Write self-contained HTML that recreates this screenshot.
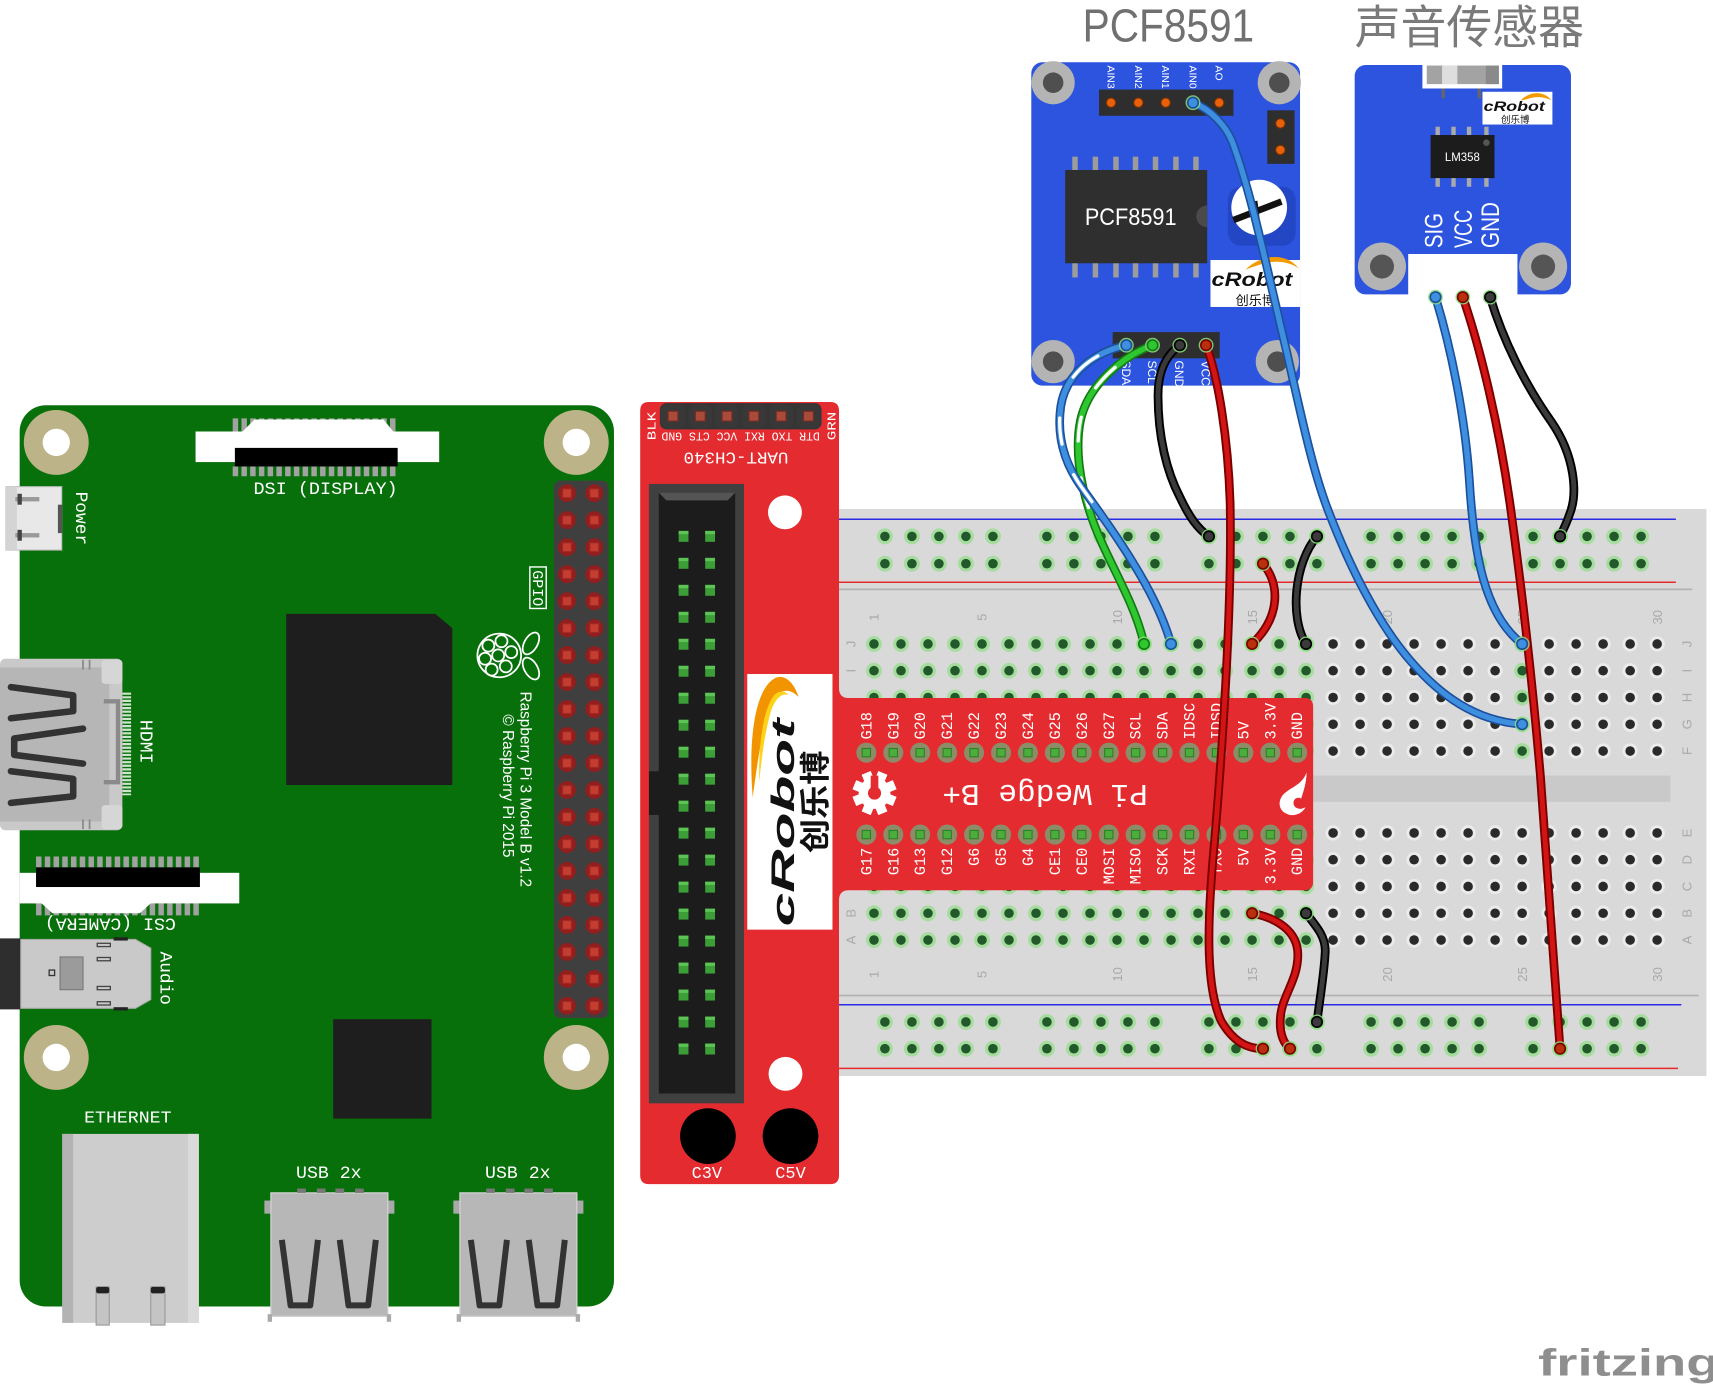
<!DOCTYPE html>
<html><head><meta charset="utf-8"><title>Fritzing breadboard</title>
<style>html,body{margin:0;padding:0;background:#fff;overflow:hidden}svg{display:block}</style></head>
<body>
<svg xmlns="http://www.w3.org/2000/svg" width="1713" height="1395" viewBox="0 0 1568 1277" preserveAspectRatio="none">
<style>
.m{font-family:"Liberation Mono",monospace;fill:#fff}
.s{font-family:"Liberation Sans",sans-serif}
.n{font-family:"Liberation Sans",sans-serif;font-size:12px;fill:#a9a9a9}
</style>
<defs>
 <g id="hg"><circle r="7.3" fill="#a6dd9f"/><circle r="4.4" fill="#22592a"/></g>
 <g id="hb"><circle r="7" fill="#ebebeb"/><circle r="4.4" fill="#2a2a2a"/></g>
 <g id="r5"><use href="#hg" x="0"/><use href="#hg" x="24.72"/><use href="#hg" x="49.44"/><use href="#hg" x="74.16"/><use href="#hg" x="98.88"/></g>
 <g id="rr"><use href="#r5" x="0"/><use href="#r5" x="148.3"/><use href="#r5" x="296.6"/><use href="#r5" x="445"/><use href="#r5" x="593.3"/></g>
 <g id="cg"><use href="#hg" y="0"/><use href="#hg" y="24.5"/><use href="#hg" y="49"/><use href="#hg" y="73.5"/><use href="#hg" y="98"/></g>
 <g id="cb"><use href="#hb" y="0"/><use href="#hb" y="24.5"/><use href="#hb" y="49"/><use href="#hb" y="73.5"/><use href="#hb" y="98"/></g>
 <g id="g17"><use href="#cg" x="0"/><use href="#cg" x="24.72"/><use href="#cg" x="49.44"/><use href="#cg" x="74.16"/><use href="#cg" x="98.88"/><use href="#cg" x="123.6"/><use href="#cg" x="148.32"/><use href="#cg" x="173.04"/><use href="#cg" x="197.76"/><use href="#cg" x="222.48"/><use href="#cg" x="247.2"/><use href="#cg" x="271.92"/><use href="#cg" x="296.64"/><use href="#cg" x="321.36"/><use href="#cg" x="346.08"/><use href="#cg" x="370.8"/><use href="#cg" x="395.52"/></g>
 <g id="b13"><use href="#cb" x="0"/><use href="#cb" x="24.72"/><use href="#cb" x="49.44"/><use href="#cb" x="74.16"/><use href="#cb" x="98.88"/><use href="#cb" x="123.6"/><use href="#cb" x="148.32"/><use href="#cb" x="173.04"/><use href="#cb" x="197.76"/><use href="#cb" x="222.48"/><use href="#cb" x="247.2"/><use href="#cb" x="271.92"/><use href="#cb" x="296.64"/></g>
 <g id="gp"><circle r="8.2" fill="#921e1e"/><rect x="-4" y="-4" width="8" height="8" fill="#c43d31" stroke="#a22a24" stroke-width="1"/></g>
 <g id="gp2"><use href="#gp" x="0"/><use href="#gp" x="25"/></g>
 <g id="ip"><rect x="-4.5" y="-5" width="9" height="10" fill="#3b9e37"/><rect x="-4.5" y="-5" width="9" height="3" fill="#5cc455"/></g>
 <g id="ip2"><use href="#ip" x="0"/><use href="#ip" x="24.3"/></g>
 <g id="wp"><circle r="9.2" fill="#8d8c68"/><rect x="-3.8" y="-3.8" width="7.6" height="7.6" fill="#4bae3c" stroke="#2e7f24" stroke-width="1"/></g>
 <g id="wp2"><use href="#wp" y="0"/><use href="#wp" y="75"/></g>
 <g id="hp"><rect x="-11" y="-11" width="22" height="22" rx="7" fill="#383838"/><rect x="-4.5" y="-4.5" width="9" height="9" fill="#a94b3b" stroke="#7a2a20" stroke-width="1"/></g>
 <g id="eB"><circle r="6.8" fill="#8be07f" opacity="0.85"/><circle r="4.8" fill="#3f8fe0" stroke="#1c4f9c" stroke-width="1.5"/></g>
 <g id="eG"><circle r="6.8" fill="#8be07f" opacity="0.85"/><circle r="4.8" fill="#2fc72f" stroke="#157a15" stroke-width="1.5"/></g>
 <g id="eK"><circle r="6.8" fill="#8be07f" opacity="0.85"/><circle r="4.8" fill="#3a3a3a" stroke="#000" stroke-width="1.5"/></g>
 <g id="eR"><circle r="6.8" fill="#8be07f" opacity="0.85"/><circle r="4.8" fill="#b8300c" stroke="#7a0000" stroke-width="1.5"/></g>
 <path id="wAIN" d="M1092,94 C1108,100 1122,115 1128,130 C1146,178 1161,252 1178,323 C1192,385 1202,432 1216,468 C1236,520 1262,572 1292,606 C1318,636 1350,660 1393.3,663"/>
 <path id="wSIG" d="M1314,272 C1328,318 1341,380 1345,440 C1349,505 1358,562 1393.3,589.5"/>
 <path id="wSV" d="M1339,272 C1356,322 1372,390 1382,460 C1396,560 1404,640 1410,710 C1417,800 1423,880 1428,960"/>
 <path id="wSG" d="M1364,272 C1376,312 1396,352 1420,386 C1442,418 1444,452 1437,470 C1434,479 1431,485 1428,491"/>
 <path id="wSDA" d="M1031,316 C1004,322 976,340 971,372 C967,400 975,425 990,446 C1020,488 1058,540 1071.9,589.5"/>
 <path id="wSCL" d="M1055,316 C1028,326 996,352 989,385 C984,410 988,440 998,470 C1010,508 1038,548 1047.2,589.5"/>
 <path id="wPG" d="M1080,316 C1066,326 1060,342 1060,362 C1060,400 1068,432 1080,455 C1088,472 1096,484 1106.6,491"/>
 <path id="wPV" d="M1104,316 C1115,345 1124,400 1126,460 C1128,560 1118,700 1110,790 C1105,850 1104,905 1118,935 C1128,952 1140,960 1156.1,960"/>
 <path id="wR1" d="M1156.1,516 C1172,535 1172,565 1146.1,589.5"/>
 <path id="wK1" d="M1205.5,491 C1185,515 1180,565 1195.5,589.5"/>
 <path id="wR2" d="M1146.1,836 C1168,840 1188,852 1188,874 C1188,898 1173,912 1172,932 C1171,946 1175,955 1180.8,960"/>
 <path id="wK2" d="M1195.5,836 C1205,848 1214,858 1213,872 C1212,892 1208,915 1205.5,935.5"/>
</defs>

<!-- ================= RASPBERRY PI ================= -->
<rect x="18" y="371" width="544" height="825" rx="24" fill="#08700b"/>
<g fill="#bcb388"><circle cx="51.5" cy="405" r="29.7"/><circle cx="527.5" cy="405" r="29.7"/><circle cx="51.5" cy="968" r="29.7"/><circle cx="527.5" cy="968" r="29.7"/></g>
<g fill="#fff"><circle cx="51.5" cy="405" r="12.5"/><circle cx="527.5" cy="405" r="12.5"/><circle cx="51.5" cy="968" r="12.5"/><circle cx="527.5" cy="968" r="12.5"/></g>

<!-- DSI -->
<line x1="213" y1="389" x2="362" y2="389" stroke="#a2a2a2" stroke-width="12" stroke-dasharray="5 3"/>
<line x1="213" y1="431.5" x2="362" y2="431.5" stroke="#a2a2a2" stroke-width="9" stroke-dasharray="5 3"/>
<rect x="179" y="395" width="223" height="28" fill="#fff"/>
<polygon points="222,395 233,384 351,384 360,395" fill="#fff"/>
<rect x="215" y="410" width="149" height="17" fill="#000"/>
<text class="m" x="298" y="452" font-size="16" text-anchor="middle" textLength="132" lengthAdjust="spacingAndGlyphs">DSI (DISPLAY)</text>

<!-- Power -->
<rect x="5.5" y="445.5" width="51" height="58" fill="#e8e8e8" stroke="#bdbdbd" stroke-width="1"/>
<rect x="5.5" y="445.5" width="10" height="58" fill="#d4d4d4"/>
<rect x="14" y="455" width="22" height="4" fill="#9a9a9a"/><rect x="14" y="488" width="22" height="4" fill="#9a9a9a"/>
<rect x="16" y="452" width="4" height="10" fill="#444"/><rect x="16" y="485" width="4" height="10" fill="#444"/>
<rect x="53" y="462" width="4" height="26" fill="#555"/>
<text class="m" font-size="16" transform="translate(69.5,450) rotate(90)" textLength="49" lengthAdjust="spacingAndGlyphs">Power</text>

<!-- HDMI -->
<rect x="0" y="603" width="112" height="157" rx="5" fill="#c9c9c9"/>
<rect x="0" y="611" width="100" height="141" fill="#b6b6b6"/>
<rect x="93" y="604" width="19" height="22" rx="3" fill="#d6d6d6"/>
<rect x="93" y="737" width="19" height="22" rx="3" fill="#d6d6d6"/>
<g stroke="#8a8a8a" stroke-width="1.6"><line x1="76" y1="604" x2="76" y2="613"/><line x1="82" y1="604" x2="82" y2="613"/><line x1="76" y1="750" x2="76" y2="759"/><line x1="82" y1="750" x2="82" y2="759"/></g>
<polyline points="95,642 108,642 108,716 95,716" fill="none" stroke="#8a8a8a" stroke-width="4"/>
<g fill="none" stroke="#333" stroke-width="6" stroke-linecap="round" stroke-linejoin="round">
 <polyline points="10,629 67,636.5 67,651 10,657.5"/>
 <polyline points="76,667 13,676 13,691 76,699"/>
 <polyline points="10,706 67,713 67,729 10,735"/>
</g>
<line x1="116" y1="634" x2="116" y2="728" stroke="#cfe3cf" stroke-width="8" stroke-dasharray="2 1.3"/>
<text class="m" font-size="16.5" transform="translate(128.5,659) rotate(90)" textLength="40" lengthAdjust="spacingAndGlyphs">HDMI</text>

<!-- CSI -->
<line x1="33" y1="789" x2="183" y2="789" stroke="#a2a2a2" stroke-width="10" stroke-dasharray="5 3"/>
<line x1="33" y1="832.5" x2="183" y2="832.5" stroke="#a2a2a2" stroke-width="11" stroke-dasharray="5 3"/>
<rect x="18" y="799" width="201" height="28" fill="#fff"/>
<polygon points="37,826 48,836 128,836 139,826" fill="#fff"/>
<rect x="33" y="794" width="150" height="18" fill="#000"/>
<text class="m" font-size="16" text-anchor="middle" transform="translate(101,841) rotate(180)" textLength="120" lengthAdjust="spacingAndGlyphs">CSI (CAMERA)</text>

<!-- Audio -->
<rect x="0" y="859" width="20" height="65" fill="#2e2e2e"/>
<polygon points="19,860 124,860 138,868 138,915 124,923 19,923" fill="#c9c9c9" stroke="#aaa" stroke-width="1"/>
<rect x="55" y="876" width="21" height="30" fill="#9b9b9b" stroke="#777" stroke-width="1"/>
<rect x="45" y="888" width="5" height="5" fill="none" stroke="#333" stroke-width="1.2"/>
<g fill="#c9c9c9" stroke="#444" stroke-width="1.2"><rect x="89" y="863.5" width="12" height="3"/><rect x="89" y="876.5" width="12" height="3"/><rect x="89" y="903" width="12" height="3"/><rect x="89" y="917" width="12" height="3"/></g>
<rect x="104" y="858" width="13" height="3" fill="#222"/><rect x="104" y="922" width="13" height="3" fill="#222"/>
<text class="m" font-size="16" transform="translate(147,871) rotate(90)" textLength="49" lengthAdjust="spacingAndGlyphs">Audio</text>

<!-- chips -->
<polygon points="262,562 398.5,562 414,575 414,718.6 262,718.6" fill="#1e1e1e"/>
<rect x="305" y="933" width="90" height="91" fill="#1e1e1e"/>

<!-- GPIO header -->
<rect x="507" y="440" width="50" height="492" rx="6" fill="#3f3f3f"/>
<use href="#gp2" x="519" y="451.5"/><use href="#gp2" x="519" y="476.2"/><use href="#gp2" x="519" y="500.9"/><use href="#gp2" x="519" y="525.6"/><use href="#gp2" x="519" y="550.3"/>
<use href="#gp2" x="519" y="575"/><use href="#gp2" x="519" y="599.7"/><use href="#gp2" x="519" y="624.4"/><use href="#gp2" x="519" y="649.1"/><use href="#gp2" x="519" y="673.8"/>
<use href="#gp2" x="519" y="698.5"/><use href="#gp2" x="519" y="723.2"/><use href="#gp2" x="519" y="747.9"/><use href="#gp2" x="519" y="772.6"/><use href="#gp2" x="519" y="797.3"/>
<use href="#gp2" x="519" y="822"/><use href="#gp2" x="519" y="846.7"/><use href="#gp2" x="519" y="871.4"/><use href="#gp2" x="519" y="896.1"/><use href="#gp2" x="519" y="920.8"/>
<rect x="485" y="519" width="15" height="38" fill="none" stroke="#fff" stroke-width="1.3"/>
<text class="m" font-size="13.5" transform="translate(488,522) rotate(90)" textLength="33" lengthAdjust="spacingAndGlyphs">GPIO</text>

<!-- raspberry logo -->
<g fill="none" stroke="#fff" stroke-width="1.6">
 <ellipse cx="457" cy="600" rx="20" ry="20"/>
 <circle cx="447" cy="591" r="5.5"/><circle cx="459" cy="587" r="5.5"/><circle cx="444" cy="603" r="5.5"/><circle cx="456" cy="600" r="5.5"/><circle cx="468" cy="597" r="5.5"/><circle cx="450" cy="613" r="5.5"/><circle cx="463" cy="610" r="5.5"/>
 <ellipse cx="486" cy="589" rx="11" ry="6" transform="rotate(-60 486 589)"/>
 <ellipse cx="486" cy="612" rx="11" ry="6" transform="rotate(60 486 612)"/>
</g>
<text class="s" font-size="14" fill="#fff" transform="translate(476.5,633) rotate(90)" textLength="179" lengthAdjust="spacingAndGlyphs">Raspberry Pi 3 Model B v1.2</text>
<text class="s" font-size="14" fill="#fff" transform="translate(460.5,654) rotate(90)" textLength="131" lengthAdjust="spacingAndGlyphs">© Raspberry Pi 2015</text>

<!-- Ethernet -->
<text class="m" x="117" y="1027.6" font-size="15" text-anchor="middle" textLength="80" lengthAdjust="spacingAndGlyphs">ETHERNET</text>
<rect x="57" y="1038" width="125" height="173" fill="#cdcdcd"/>
<rect x="57" y="1038" width="10" height="173" fill="#b3b3b3"/>
<rect x="172" y="1038" width="10" height="173" fill="#dadada"/>
<rect x="88" y="1178" width="12" height="35" fill="#c4c4c4" stroke="#999" stroke-width="1"/><rect x="88" y="1178" width="12" height="6" rx="2" fill="#222"/>
<rect x="138" y="1178" width="13" height="35" fill="#c4c4c4" stroke="#999" stroke-width="1"/><rect x="138" y="1178" width="13" height="6" rx="2" fill="#222"/>

<!-- USB 1 -->
<g id="usb">
<rect x="242" y="1099" width="119" height="12" fill="#a9a9a9"/>
<rect x="248" y="1092" width="107" height="113" fill="#b7b7b7" stroke="#d2d2d2" stroke-width="1.2"/>
<g fill="#777"><rect x="272" y="1088" width="8" height="4"/><rect x="290" y="1088" width="8" height="4"/><rect x="307" y="1088" width="8" height="4"/><rect x="325" y="1088" width="8" height="4"/></g>
<g fill="none" stroke="#333" stroke-width="5.5" stroke-linejoin="round"><polyline points="258,1135 266,1195 284,1195 291,1135"/><polyline points="311,1135 319,1195 337,1195 344,1135"/></g>
<rect x="245" y="1203" width="4" height="7" fill="#aaa"/><rect x="354" y="1203" width="4" height="7" fill="#aaa"/>
</g>
<use href="#usb" x="173"/>
<text class="m" x="301" y="1078.5" font-size="16" text-anchor="middle" textLength="60" lengthAdjust="spacingAndGlyphs">USB 2x</text>
<text class="m" x="474" y="1078.5" font-size="16" text-anchor="middle" textLength="60" lengthAdjust="spacingAndGlyphs">USB 2x</text>

<!-- ================= BREADBOARD ================= -->
<rect x="768" y="466" width="794" height="519" fill="#d9d9d9"/>
<rect x="1190" y="710" width="339" height="24" fill="#c9c9c9"/>
<line x1="768" y1="475.3" x2="1534" y2="475.3" stroke="#2a2ae6" stroke-width="1.4"/>
<line x1="768" y1="533" x2="1534" y2="533" stroke="#e62a2a" stroke-width="1.4"/>
<line x1="768" y1="539.5" x2="1549" y2="539.5" stroke="#b3b3b3" stroke-width="1.6"/>
<line x1="768" y1="911.3" x2="1555" y2="911.3" stroke="#b3b3b3" stroke-width="1.6"/>
<line x1="768" y1="919.8" x2="1539" y2="919.8" stroke="#2a2ae6" stroke-width="1.4"/>
<line x1="768" y1="978" x2="1536" y2="978" stroke="#e62a2a" stroke-width="1.4"/>
<use href="#rr" x="810" y="491"/><use href="#rr" x="810" y="516"/><use href="#rr" x="810" y="935.5"/><use href="#rr" x="810" y="960"/>
<use href="#g17" x="800" y="589.5"/><use href="#g17" x="800" y="762.5"/>
<use href="#b13" x="1220.24" y="589.5"/><use href="#b13" x="1220.24" y="762.5"/>
<use href="#cg" x="1393.28" y="589.5"/>
<g class="n" text-anchor="middle">
 <text transform="translate(804.3,565) rotate(-90)">1</text><text transform="translate(903.2,565) rotate(-90)">5</text><text transform="translate(1026.8,565) rotate(-90)">10</text><text transform="translate(1150.4,565) rotate(-90)">15</text><text transform="translate(1274,565) rotate(-90)">20</text><text transform="translate(1397.6,565) rotate(-90)">25</text><text transform="translate(1521.2,565) rotate(-90)">30</text>
 <text transform="translate(804.3,892) rotate(-90)">1</text><text transform="translate(903.2,892) rotate(-90)">5</text><text transform="translate(1026.8,892) rotate(-90)">10</text><text transform="translate(1150.4,892) rotate(-90)">15</text><text transform="translate(1274,892) rotate(-90)">20</text><text transform="translate(1397.6,892) rotate(-90)">25</text><text transform="translate(1521.2,892) rotate(-90)">30</text>
 <text transform="translate(1548.3,589.5) rotate(-90)">J</text><text transform="translate(1548.3,614) rotate(-90)">I</text><text transform="translate(1548.3,638.5) rotate(-90)">H</text><text transform="translate(1548.3,663) rotate(-90)">G</text><text transform="translate(1548.3,687.5) rotate(-90)">F</text>
 <text transform="translate(1548.3,762.5) rotate(-90)">E</text><text transform="translate(1548.3,787) rotate(-90)">D</text><text transform="translate(1548.3,811.5) rotate(-90)">C</text><text transform="translate(1548.3,836) rotate(-90)">B</text><text transform="translate(1548.3,860.5) rotate(-90)">A</text>
 <text transform="translate(783.3,589.5) rotate(-90)">J</text><text transform="translate(783.3,614) rotate(-90)">I</text><text transform="translate(783.3,836) rotate(-90)">B</text><text transform="translate(783.3,860.5) rotate(-90)">A</text>
</g>

<!-- ================= PI WEDGE ================= -->
<path d="M594,368 H760 Q768,368 768,376 V630 Q768,639 777,639 H1194 Q1202,639 1202,647 V807 Q1202,815 1194,815 H777 Q768,815 768,824 V1076 Q768,1084 760,1084 H594 Q586,1084 586,1076 V376 Q586,368 594,368 Z" fill="#e42b2f"/>
<rect x="604" y="369" width="148" height="24" rx="6" fill="#353535"/>
<use href="#hp" x="616" y="381"/><use href="#hp" x="641" y="381"/><use href="#hp" x="665.5" y="381"/><use href="#hp" x="690" y="381"/><use href="#hp" x="715" y="381"/><use href="#hp" x="740" y="381"/>
<text class="m" font-size="11" transform="translate(600,403) rotate(-90)" textLength="26" lengthAdjust="spacingAndGlyphs">BLK</text>
<text class="m" font-size="11" transform="translate(765,403) rotate(-90)" textLength="26" lengthAdjust="spacingAndGlyphs">GRN</text>
<text class="m" font-size="11" text-anchor="middle" transform="translate(678,396) rotate(180)" textLength="145" lengthAdjust="spacingAndGlyphs">DTR TXO RXI VCC CTS GND</text>
<text class="m" font-size="15" text-anchor="middle" transform="translate(673.7,414) rotate(180)" textLength="96" lengthAdjust="spacingAndGlyphs">UART-CH340</text>
<circle cx="718.5" cy="469" r="15.5" fill="#fff"/>
<circle cx="719" cy="983" r="15.5" fill="#fff"/>
<!-- IDC -->
<rect x="594" y="443" width="87" height="567" fill="#404040"/>
<rect x="603" y="451" width="70" height="550" fill="#1c1c1c"/>
<polygon points="603,451 673,451 666,458 610,458" fill="#555"/>
<rect x="594" y="706" width="12" height="40" fill="#1c1c1c"/>
<use href="#ip2" x="625.7" y="491"/><use href="#ip2" x="625.7" y="515.7"/><use href="#ip2" x="625.7" y="540.4"/><use href="#ip2" x="625.7" y="565.1"/><use href="#ip2" x="625.7" y="589.8"/>
<use href="#ip2" x="625.7" y="614.5"/><use href="#ip2" x="625.7" y="639.2"/><use href="#ip2" x="625.7" y="663.9"/><use href="#ip2" x="625.7" y="688.6"/><use href="#ip2" x="625.7" y="713.3"/>
<use href="#ip2" x="625.7" y="738"/><use href="#ip2" x="625.7" y="762.7"/><use href="#ip2" x="625.7" y="787.4"/><use href="#ip2" x="625.7" y="812.1"/><use href="#ip2" x="625.7" y="836.8"/>
<use href="#ip2" x="625.7" y="861.5"/><use href="#ip2" x="625.7" y="886.2"/><use href="#ip2" x="625.7" y="910.9"/><use href="#ip2" x="625.7" y="935.6"/><use href="#ip2" x="625.7" y="960.3"/>
<!-- logo -->
<rect x="684" y="617" width="78" height="234" fill="#fff"/>
<path d="M689,730 C685,680 690,632 709,621 C718,616 727,625 731,638 C722,629 713,631 707,642 C698,662 693,700 689,730 Z" fill="#f29400"/>
<path d="M695,716 C694,680 699,648 709,636 C713,632 718,632 722,636 C715,634 710,640 706,650 C700,670 697,695 695,716 Z" fill="#ffd21a"/>
<text transform="translate(727,848) rotate(-90)" font-family="'Liberation Sans',sans-serif" font-weight="bold" font-style="italic" font-size="30" fill="#111" textLength="190" lengthAdjust="spacingAndGlyphs">cRobot</text>
<text transform="translate(756,781) rotate(-90)" font-family="'Liberation Sans','Noto Sans CJK SC',sans-serif" font-weight="bold" font-size="28" fill="#111" textLength="94" lengthAdjust="spacingAndGlyphs">创乐博</text>
<!-- C3V C5V -->
<circle cx="648" cy="1040" r="25.5" fill="#000"/>
<circle cx="723.6" cy="1040" r="25.5" fill="#000"/>
<text class="m" x="647" y="1078.5" font-size="15.5" text-anchor="middle">C3V</text>
<text class="m" x="723.6" y="1078.5" font-size="15.5" text-anchor="middle">C5V</text>
<!-- wedge pins -->
<use href="#wp2" x="793" y="689"/><use href="#wp2" x="817.7" y="689"/><use href="#wp2" x="842.3" y="689"/><use href="#wp2" x="867" y="689"/><use href="#wp2" x="891.6" y="689"/><use href="#wp2" x="916.3" y="689"/><use href="#wp2" x="940.9" y="689"/><use href="#wp2" x="965.6" y="689"/><use href="#wp2" x="990.2" y="689"/><use href="#wp2" x="1014.9" y="689"/><use href="#wp2" x="1039.5" y="689"/><use href="#wp2" x="1064.2" y="689"/><use href="#wp2" x="1088.8" y="689"/><use href="#wp2" x="1113.5" y="689"/><use href="#wp2" x="1138.1" y="689"/><use href="#wp2" x="1162.8" y="689"/><use href="#wp2" x="1187.4" y="689"/>
<g class="m" font-size="14">
 <text transform="translate(797.6,677) rotate(-90)">G18</text><text transform="translate(822.3,677) rotate(-90)">G19</text><text transform="translate(846.9,677) rotate(-90)">G20</text><text transform="translate(871.6,677) rotate(-90)">G21</text><text transform="translate(896.2,677) rotate(-90)">G22</text><text transform="translate(920.9,677) rotate(-90)">G23</text><text transform="translate(945.5,677) rotate(-90)">G24</text><text transform="translate(970.2,677) rotate(-90)">G25</text><text transform="translate(994.8,677) rotate(-90)">G26</text><text transform="translate(1019.5,677) rotate(-90)">G27</text><text transform="translate(1044.1,677) rotate(-90)">SCL</text><text transform="translate(1068.8,677) rotate(-90)">SDA</text><text transform="translate(1093.4,677) rotate(-90)">IDSC</text><text transform="translate(1118.1,677) rotate(-90)">IDSD</text><text transform="translate(1142.7,677) rotate(-90)">5V</text><text transform="translate(1167.4,677) rotate(-90)">3.3V</text><text transform="translate(1192,677) rotate(-90)">GND</text>
</g>
<g class="m" font-size="14" text-anchor="end">
 <text transform="translate(797.6,776) rotate(-90)">G17</text><text transform="translate(822.3,776) rotate(-90)">G16</text><text transform="translate(846.9,776) rotate(-90)">G13</text><text transform="translate(871.6,776) rotate(-90)">G12</text><text transform="translate(896.2,776) rotate(-90)">G6</text><text transform="translate(920.9,776) rotate(-90)">G5</text><text transform="translate(945.5,776) rotate(-90)">G4</text><text transform="translate(970.2,776) rotate(-90)">CE1</text><text transform="translate(994.8,776) rotate(-90)">CE0</text><text transform="translate(1019.5,776) rotate(-90)">MOSI</text><text transform="translate(1044.1,776) rotate(-90)">MISO</text><text transform="translate(1068.8,776) rotate(-90)">SCK</text><text transform="translate(1093.4,776) rotate(-90)">RXI</text><text transform="translate(1118.1,776) rotate(-90)">TXO</text><text transform="translate(1142.7,776) rotate(-90)">5V</text><text transform="translate(1167.4,776) rotate(-90)">3.3V</text><text transform="translate(1192,776) rotate(-90)">GND</text>
</g>
<text class="m" font-size="28" text-anchor="middle" transform="translate(956.6,718.5) rotate(180)" textLength="188" lengthAdjust="spacingAndGlyphs">Pi Wedge B+</text>
<g transform="translate(800.5,726)" fill="#fff">
 <circle r="14.5"/>
 <rect x="-4.5" y="-20" width="9" height="9" transform="rotate(22.5)"/><rect x="-4.5" y="-20" width="9" height="9" transform="rotate(67.5)"/><rect x="-4.5" y="-20" width="9" height="9" transform="rotate(112.5)"/><rect x="-4.5" y="-20" width="9" height="9" transform="rotate(157.5)"/><rect x="-4.5" y="-20" width="9" height="9" transform="rotate(202.5)"/><rect x="-4.5" y="-20" width="9" height="9" transform="rotate(247.5)"/><rect x="-4.5" y="-20" width="9" height="9" transform="rotate(292.5)"/><rect x="-4.5" y="-20" width="9" height="9" transform="rotate(337.5)"/>
 <circle r="6" fill="#e42b2f"/>
 <rect x="-3.5" y="-16" width="7" height="12" fill="#e42b2f"/>
</g>
<path d="M1196,707 C1192,718 1183,720 1176,726 C1169,732 1170,742 1178,745 C1184,748 1192,745 1195,739 C1190,742 1184,740 1184,735 C1184,731 1188,729 1191,731 C1193,725 1196,716 1196,707 Z" fill="#fff"/>

<!-- ================= PCF8591 MODULE ================= -->
<rect x="944" y="57" width="246" height="296" rx="10" fill="#2c54de"/>
<g fill="#b4b4b4"><circle cx="964" cy="75.7" r="19.8"/><circle cx="1171" cy="75.7" r="19.8"/><circle cx="964" cy="331" r="19.8"/><circle cx="1169.2" cy="331" r="19.8"/></g>
<g fill="#4f4f4f"><circle cx="964" cy="75.7" r="9.4"/><circle cx="1171" cy="75.7" r="9.4"/><circle cx="964" cy="331" r="9.4"/><circle cx="1169.2" cy="331" r="9.4"/></g>
<rect x="1006" y="82" width="123" height="24" fill="#2e2e2e"/>
<g fill="#e8600a" stroke="#7a3000" stroke-width="1"><circle cx="1017" cy="94" r="4.3"/><circle cx="1042" cy="94" r="4.3"/><circle cx="1067" cy="94" r="4.3"/><circle cx="1092" cy="94" r="4.3"/><circle cx="1116" cy="94" r="4.3"/></g>
<g class="s" font-size="9.5" fill="#fff">
 <text transform="translate(1013.8,60) rotate(90)">AIN3</text><text transform="translate(1038.8,60) rotate(90)">AIN2</text><text transform="translate(1063.8,60) rotate(90)">AIN1</text><text transform="translate(1088.8,60) rotate(90)">AIN0</text><text transform="translate(1112.8,60) rotate(90)">AO</text>
</g>
<rect x="1160" y="101" width="25" height="49" fill="#2e2e2e"/>
<g fill="#e8600a" stroke="#7a3000" stroke-width="1"><circle cx="1172" cy="113" r="4.3"/><circle cx="1172" cy="137.3" r="4.3"/></g>
<g fill="#9c9c9c">
 <rect x="981.5" y="143.4" width="5" height="13"/><rect x="1000.2" y="143.4" width="5" height="13"/><rect x="1019" y="143.4" width="5" height="13"/><rect x="1036.9" y="143.4" width="5" height="13"/><rect x="1055.2" y="143.4" width="5" height="13"/><rect x="1073.9" y="143.4" width="5" height="13"/><rect x="1092.2" y="143.4" width="5" height="13"/>
 <rect x="981.5" y="240" width="5" height="14"/><rect x="1000.2" y="240" width="5" height="14"/><rect x="1019" y="240" width="5" height="14"/><rect x="1036.9" y="240" width="5" height="14"/><rect x="1055.2" y="240" width="5" height="14"/><rect x="1073.9" y="240" width="5" height="14"/><rect x="1092.2" y="240" width="5" height="14"/>
</g>
<rect x="975" y="155.6" width="130" height="85.4" fill="#2f2f2f"/>
<path d="M1105,188 A10,10 0 0 0 1105,208 Z" fill="#4a4a4a"/>
<text class="s" x="993" y="206" font-size="22" fill="#fff" textLength="84" lengthAdjust="spacingAndGlyphs">PCF8591</text>
<rect x="1124" y="171" width="62" height="54" rx="12" fill="#2347c4"/>
<circle cx="1152.6" cy="190" r="25.5" fill="#fff"/>
<line x1="1129" y1="201.5" x2="1173" y2="184.5" stroke="#111" stroke-width="6"/>
<line x1="1149" y1="184" x2="1152" y2="208" stroke="#111" stroke-width="4"/>
<rect x="1108" y="238" width="82" height="43" fill="#fff"/>
<path d="M1140,247 C1155,232 1178,231 1189,246 C1180,239 1166,238 1154,242 C1148,244 1144,245 1140,247 Z" fill="#f29a00"/>
<text x="1109" y="262" font-family="'Liberation Sans',sans-serif" font-weight="bold" font-style="italic" font-size="18" fill="#111" textLength="74" lengthAdjust="spacingAndGlyphs">cRobot</text>
<text x="1131" y="279" font-family="'Liberation Sans','Noto Sans CJK SC',sans-serif" font-size="12" fill="#111" textLength="36" lengthAdjust="spacingAndGlyphs">创乐博</text>
<rect x="1018.5" y="304" width="98" height="24" fill="#2e2e2e"/>
<g class="s" font-size="11" fill="#fff">
 <text transform="translate(1027,330) rotate(90)">SDA</text><text transform="translate(1051,330) rotate(90)">SCL</text><text transform="translate(1075.5,330) rotate(90)">GND</text><text transform="translate(1100,330) rotate(90)">VCC</text>
</g>

<!-- ================= SOUND SENSOR ================= -->
<rect x="1240" y="59.5" width="198" height="210" rx="10" fill="#2c54de"/>
<rect x="1302" y="59.5" width="73" height="21.5" fill="#fff"/>
<rect x="1306" y="60" width="66" height="17" fill="#a3a3a3"/>
<rect x="1320" y="60" width="14" height="17" fill="#dedede"/>
<rect x="1360" y="60" width="12" height="17" fill="#8a8a8a"/>
<g stroke="#666" stroke-width="3"><line x1="1321" y1="81" x2="1321" y2="90"/><line x1="1354" y1="81" x2="1354" y2="90"/></g>
<rect x="1357" y="84" width="64" height="30" fill="#fff"/>
<path d="M1392,92 C1400,83 1414,83 1420,92 C1414,88 1404,88 1397,91 Z" fill="#f29a00"/>
<text x="1358" y="101.5" font-family="'Liberation Sans',sans-serif" font-weight="bold" font-style="italic" font-size="12.5" fill="#111" textLength="56" lengthAdjust="spacingAndGlyphs">cRobot</text>
<text x="1374" y="112.5" font-family="'Liberation Sans','Noto Sans CJK SC',sans-serif" font-size="9" fill="#111" textLength="26" lengthAdjust="spacingAndGlyphs">创乐博</text>
<g fill="#aaa"><rect x="1314" y="116" width="4" height="8"/><rect x="1328.5" y="116" width="4" height="8"/><rect x="1342.7" y="116" width="4" height="8"/><rect x="1358.6" y="116" width="4" height="8"/><rect x="1314" y="162.5" width="4" height="8.5"/><rect x="1328.5" y="162.5" width="4" height="8.5"/><rect x="1342.7" y="162.5" width="4" height="8.5"/><rect x="1358.6" y="162.5" width="4" height="8.5"/></g>
<rect x="1309.5" y="123.6" width="58.5" height="39.4" fill="#1c1c1c"/>
<circle cx="1360.6" cy="130.6" r="3" fill="#555"/>
<text class="s" x="1338.6" y="147.5" font-size="11" fill="#fff" text-anchor="middle" textLength="32" lengthAdjust="spacingAndGlyphs">LM358</text>
<g class="s" font-size="23" fill="#fff">
 <text transform="translate(1320.5,227) rotate(-90)" textLength="32" lengthAdjust="spacingAndGlyphs">SIG</text>
 <text transform="translate(1347.5,227) rotate(-90)" textLength="35" lengthAdjust="spacingAndGlyphs">VCC</text>
 <text transform="translate(1372,227) rotate(-90)" textLength="42" lengthAdjust="spacingAndGlyphs">GND</text>
</g>
<rect x="1289" y="232.5" width="100" height="38" fill="#fff"/>
<g fill="#b4b4b4"><circle cx="1265" cy="244" r="22"/><circle cx="1412.5" cy="244" r="22"/></g>
<g fill="#555"><circle cx="1265" cy="244" r="11"/><circle cx="1412.5" cy="244" r="11"/></g>

<!-- titles -->
<text class="s" x="991" y="38" font-size="42" fill="#707070" textLength="157" lengthAdjust="spacingAndGlyphs">PCF8591</text>
<text x="1240" y="40" font-family="'Liberation Sans','Noto Sans CJK SC',sans-serif" font-size="42" fill="#7a7a7a" textLength="210" lengthAdjust="spacingAndGlyphs">声音传感器</text>

<!-- ================= WIRES ================= -->
<g fill="none" stroke-linecap="round" stroke-linejoin="round">
 <use href="#wSCL" stroke="#137a13" stroke-width="8"/><use href="#wSCL" stroke="#2fc72f" stroke-width="5"/><use href="#wSCL" stroke="#fff" stroke-width="3" stroke-dasharray="0 40 26 30 22 34 28 400"/>
 <use href="#wSDA" stroke="#1c4f9c" stroke-width="8"/><use href="#wSDA" stroke="#3f8fe0" stroke-width="5"/><use href="#wSDA" stroke="#fff" stroke-width="3" stroke-dasharray="0 28 30 40 24 30 30 400"/>
 <use href="#wPG" stroke="#000" stroke-width="8"/><use href="#wPG" stroke="#3a3a3a" stroke-width="4.5"/>
 <use href="#wPV" stroke="#7a0000" stroke-width="8"/><use href="#wPV" stroke="#d21414" stroke-width="4.5"/>
 <use href="#wAIN" stroke="#1c4f9c" stroke-width="8"/><use href="#wAIN" stroke="#3f8fe0" stroke-width="5"/>
 <use href="#wR1" stroke="#7a0000" stroke-width="8"/><use href="#wR1" stroke="#d21414" stroke-width="4.5"/>
 <use href="#wK1" stroke="#000" stroke-width="8"/><use href="#wK1" stroke="#3a3a3a" stroke-width="4.5"/>
 <use href="#wR2" stroke="#7a0000" stroke-width="8"/><use href="#wR2" stroke="#d21414" stroke-width="4.5"/>
 <use href="#wK2" stroke="#000" stroke-width="8"/><use href="#wK2" stroke="#3a3a3a" stroke-width="4.5"/>
 <use href="#wSIG" stroke="#1c4f9c" stroke-width="8"/><use href="#wSIG" stroke="#3f8fe0" stroke-width="5"/>
 <use href="#wSG" stroke="#000" stroke-width="8"/><use href="#wSG" stroke="#3a3a3a" stroke-width="4.5"/>
 <use href="#wSV" stroke="#7a0000" stroke-width="8"/><use href="#wSV" stroke="#d21414" stroke-width="4.5"/>
</g>
<use href="#eB" x="1092" y="94"/><use href="#eB" x="1393.3" y="663"/>
<use href="#eB" x="1031" y="316"/><use href="#eB" x="1071.9" y="589.5"/>
<use href="#eG" x="1055" y="316"/><use href="#eG" x="1047.2" y="589.5"/>
<use href="#eK" x="1080" y="316"/><use href="#eK" x="1106.6" y="491"/>
<use href="#eR" x="1104" y="316"/><use href="#eR" x="1156.1" y="960"/>
<use href="#eR" x="1156.1" y="516"/><use href="#eR" x="1146.1" y="589.5"/>
<use href="#eK" x="1205.5" y="491"/><use href="#eK" x="1195.5" y="589.5"/>
<use href="#eR" x="1146.1" y="836"/><use href="#eR" x="1180.8" y="960"/>
<use href="#eK" x="1195.5" y="836"/><use href="#eK" x="1205.5" y="935.5"/>
<use href="#eB" x="1314" y="272"/><use href="#eB" x="1393.3" y="589.5"/>
<use href="#eK" x="1364" y="272"/><use href="#eK" x="1428" y="491"/>
<use href="#eR" x="1339" y="272"/><use href="#eR" x="1428" y="960"/>

<!-- fritzing logo -->
<text x="1408" y="1259" font-family="'Liberation Sans',sans-serif" font-weight="bold" font-size="35" fill="#8e8e8e" textLength="166" lengthAdjust="spacingAndGlyphs">fritzing</text>
</svg>
</body></html>
